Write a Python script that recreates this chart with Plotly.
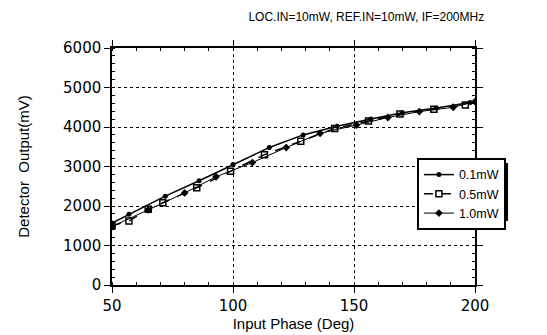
import plotly.graph_objects as go

title_text = "LOC.IN=10mW, REF.IN=10mW, IF=200MHz"
x_title = "Input Phase (Deg)"
y_title = "Detector  Output(mV)"

series_names = ["0.1mW", "0.5mW", "1.0mW"]

phase_01 = [50, 57, 72, 86, 100, 115, 129, 143, 157, 170, 184, 198]
v_01 = [1570, 1790, 2250, 2640, 3050, 3480, 3800, 4020, 4200, 4360, 4480, 4620]

phase_05 = [50, 57, 65, 71, 85, 99, 113, 128, 142, 156, 169, 183, 196]
v_05 = [1500, 1620, 1920, 2080, 2460, 2880, 3300, 3640, 3960, 4150, 4330, 4450, 4560]

phase_10 = [50, 65, 80, 93, 108, 122, 136, 151, 164, 177, 191, 200]
v_10 = [1480, 1900, 2330, 2740, 3100, 3480, 3840, 4050, 4240, 4390, 4500, 4640]

x_ticks = [50, 100, 150, 200]
y_ticks = [0, 1000, 2000, 3000, 4000, 5000, 6000]

tick_family = "DejaVu Sans, sans-serif"
text_family = "Liberation Sans, Arial, sans-serif"

fig = go.Figure()
fig.add_trace(go.Scatter(
    x=phase_01, y=v_01, name=series_names[0], mode="lines+markers",
    line=dict(color="black", width=1.5),
    marker=dict(symbol="circle", size=5, color="black"),
))
fig.add_trace(go.Scatter(
    x=phase_05, y=v_05, name=series_names[1], mode="lines+markers",
    line=dict(color="black", width=1.5, dash="dash"),
    marker=dict(symbol="square-open", size=6, color="black", line=dict(width=1.5)),
))
fig.add_trace(go.Scatter(
    x=phase_10, y=v_10, name=series_names[2], mode="lines+markers",
    line=dict(color="black", width=1),
    marker=dict(symbol="diamond", size=6, color="black"),
))

axis_common = dict(
    showline=True, linecolor="black", linewidth=1.5, mirror="allticks",
    ticks="outside", ticklen=6, tickcolor="black", tickwidth=1.2,
    showgrid=True, gridcolor="black", griddash="dot", gridwidth=1,
    zeroline=False,
    tickfont=dict(family=tick_family, size=15, color="black"),
)

fig.update_xaxes(
    range=[50, 200], tickvals=x_ticks, ticktext=[str(v) for v in x_ticks],
    title=dict(text=x_title, font=dict(family=text_family, size=15, color="black"), standoff=2),
    minor=dict(ticks="inside", ticklen=3, tickcolor="black", dtick=10, showgrid=False),
    **axis_common,
)
fig.update_yaxes(
    range=[0, 6000], tickvals=y_ticks, ticktext=[str(v) for v in y_ticks],
    title=dict(text=y_title, font=dict(family=text_family, size=15, color="black"), standoff=30),
    minor=dict(ticks="inside", ticklen=3, tickcolor="black", dtick=200, showgrid=False),
    **axis_common,
)

# legend drop shadow
fig.add_shape(type="rect", xref="paper", yref="paper",
              x0=0.851, x1=1.091, y0=0.27, y1=0.515,
              fillcolor="black", line=dict(width=0), layer="above")

fig.update_layout(
    width=547, height=335,
    margin=dict(l=104, r=80, t=40, b=58),
    paper_bgcolor="white", plot_bgcolor="white",
    title=dict(text=title_text, x=0.655, xanchor="center", y=0.975, yanchor="middle",
               font=dict(family=text_family, size=12, color="black")),
    showlegend=True,
    legend=dict(
        x=0.84, y=0.536, xanchor="left", yanchor="top",
        bgcolor="white", bordercolor="black", borderwidth=2,
        font=dict(family=text_family, size=12.5, color="black"),
        tracegroupgap=0, itemwidth=30,
    ),
)

fig.write_html("out.html")
